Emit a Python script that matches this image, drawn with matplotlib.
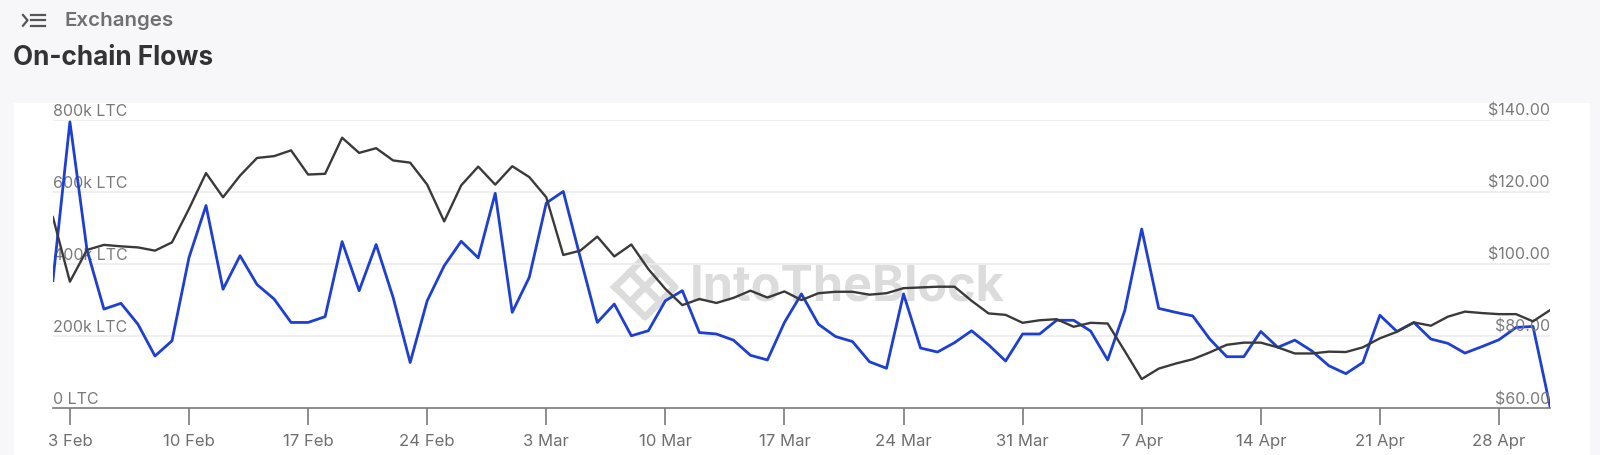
import matplotlib
matplotlib.use("Agg")
import matplotlib.pyplot as plt
import matplotlib.dates as mdates
import matplotlib.transforms as mtransforms
from matplotlib.patches import Rectangle
from matplotlib.lines import Line2D
import numpy as np
import pandas as pd

plt.rcParams["font.family"] = ["Inter", "DejaVu Sans"]

# daily values, 2 Feb 2025 .. 1 May 2025
start_date = "2025-02-02"
end_date = "2025-05-01"

# exchange on-chain flows (k LTC)
flows_k = [
    354, 794, 440, 275, 291, 233, 145, 187, 418, 562,
    330, 423, 343, 303, 238, 238, 254, 462, 326, 454,
    307, 127, 298, 395, 463, 417, 596, 266, 363, 569,
    601, 418, 238, 289, 201, 215, 298, 326, 210, 206,
    189, 147, 134, 238, 317, 233, 199, 185, 129, 111,
    317, 167, 156, 182, 215, 176, 131, 206, 206, 244,
    244, 214, 134, 270, 497, 277, 266, 256, 192, 143,
    143, 213, 169, 189, 159, 118, 96, 127, 258, 213,
    238, 192, 180, 153, 171, 190, 224, 227, 6,
]

# LTC price (USD)
price = [
    113.0, 95.1, 103.9, 105.3, 104.9, 104.6, 103.7, 106.0, 115.3, 125.2,
    118.5, 124.5, 129.4, 129.9, 131.5, 124.8, 125.0, 135.0, 130.8, 132.1,
    128.7, 128.1, 122.0, 111.8, 121.8, 127.0, 122.0, 127.1, 124.1, 118.5,
    102.5, 103.7, 107.6, 102.1, 105.4, 98.6, 93.1, 88.6, 90.3, 89.2,
    90.6, 92.6, 90.7, 92.4, 90.0, 91.9, 92.3, 92.3, 91.5, 91.9,
    93.3, 93.5, 93.7, 93.7, 89.8, 86.3, 85.9, 83.7, 84.4, 84.7,
    82.6, 83.7, 83.5, 75.9, 68.1, 71.0, 72.4, 73.6, 75.5, 77.6,
    78.2, 78.2, 76.9, 75.2, 75.2, 75.7, 75.6, 76.9, 79.4, 81.2,
    83.8, 82.9, 85.4, 86.8, 86.4, 86.1, 86.1, 84.1, 87.2,
]

flow_ticks = [0, 200, 400, 600, 800]
flow_labels = ["0 LTC", "200k LTC", "400k LTC", "600k LTC", "800k LTC"]
price_ticks = [60, 80, 100, 120, 140]
price_labels = ["$60.00", "$80.00", "$100.00", "$120.00", "$140.00"]

dates = pd.date_range(start_date, end_date, freq="D")
flows = np.array(flows_k) * 1000

W, H = 1600, 456
fig = plt.figure(figsize=(W / 100, H / 100), dpi=100)
fig.patch.set_facecolor("#f7f7fa")

# white card behind the chart
fig.patches.append(Rectangle((14 / W, 0), (1590 - 14) / W, 1 - 104 / H,
                             transform=fig.transFigure, facecolor="white",
                             edgecolor="none", zorder=-2))

# header icon
icon_col = "#555555"
fig.add_artist(Line2D([23 / W, 27.5 / W, 23 / W], [1 - 16 / H, 1 - 21.3 / H, 1 - 26.7 / H],
                      color=icon_col, lw=1.6, transform=fig.transFigure))
for yy in (16, 21.3, 26.7):
    fig.add_artist(Line2D([31 / W, 45 / W], [1 - yy / H, 1 - yy / H],
                          color=icon_col, lw=1.6, transform=fig.transFigure))

fig.text(64 / W, 1 - 21.5 / H, "Exchanges", fontsize=14.8, fontweight="semibold",
         color="#707070", va="center", ha="left")
fig.text(13 / W, 1 - 58 / H, "On-chain Flows", fontsize=18.8, fontweight="bold",
         color="#333333", va="center", ha="left")

# watermark (drawn under the axes)
wm = "#dcdcdc"
fig.text(690 / W, 1 - 288 / H, "IntoTheBlock", fontsize=35, fontweight="bold",
         color=wm, va="center", ha="left", zorder=-1)
cx, cy, s = 645, 288, 30
fig.add_artist(Line2D([(cx - s) / W, cx / W, (cx + s) / W, cx / W, (cx - s) / W],
                      [1 - cy / H, 1 - (cy - s) / H, 1 - cy / H, 1 - (cy + s) / H, 1 - cy / H],
                      color=wm, lw=5, transform=fig.transFigure, zorder=-1))
fig.add_artist(Line2D([(cx - s * 0.5) / W, (cx + s * 0.5) / W],
                      [1 - (cy - s * 0.5) / H, 1 - (cy + s * 0.5) / H],
                      color=wm, lw=5, transform=fig.transFigure, zorder=-1))
fig.add_artist(Line2D([(cx - s * 0.5) / W, (cx + s * 0.5) / W],
                      [1 - (cy + s * 0.5) / H, 1 - (cy - s * 0.5) / H],
                      color=wm, lw=5, transform=fig.transFigure, zorder=-1))

left, right = 52.9, 1550
top, bottom = 120.7, 409.3
ax = fig.add_axes([left / W, 1 - bottom / H, (right - left) / W, (bottom - top) / H])
ax.set_facecolor("none")
ax2 = ax.twinx()
ax2.set_facecolor("none")

ax.plot(dates, flows, color="#1d3fd3", lw=2.0, zorder=3)
ax2.plot(dates, price, color="#3a3a3a", lw=1.7, zorder=3)

ax.set_xlim(dates[0], dates[-1])
ax.set_ylim(0, 800000)
ax2.set_ylim(60, 140)

for a in (ax, ax2):
    for sp in a.spines.values():
        sp.set_visible(False)
    a.set_yticks([])

ax.spines["bottom"].set_visible(True)
ax.spines["bottom"].set_color("#7a7a7a")
ax.spines["bottom"].set_linewidth(1.2)

for v in flow_ticks[1:]:
    ax.axhline(v * 1000, color="#ececec", lw=1.2, zorder=1)

trans_l = mtransforms.blended_transform_factory(ax.transAxes, ax.transData)
for v, lab in zip(flow_ticks, flow_labels):
    ax.text(0.0, v * 1000 + 6000, lab, transform=trans_l, ha="left", va="bottom",
            fontsize=11.5, color="#7a7a7a", zorder=2)
trans_r = mtransforms.blended_transform_factory(ax2.transAxes, ax2.transData)
for v, lab in zip(price_ticks, price_labels):
    ax2.text(1.0, v + 0.6, lab, transform=trans_r, ha="right", va="bottom",
             fontsize=11.5, color="#7a7a7a", zorder=2)

ax.xaxis.set_major_locator(mdates.WeekdayLocator(byweekday=mdates.MO))
ax.xaxis.set_major_formatter(mdates.DateFormatter("%-d %b"))
ax.tick_params(axis="x", length=12, width=1.2, color="#7a7a7a", labelsize=12,
               labelcolor="#6f6f6f", pad=6)

fig.savefig("out.png", dpi=100, facecolor=fig.get_facecolor())
